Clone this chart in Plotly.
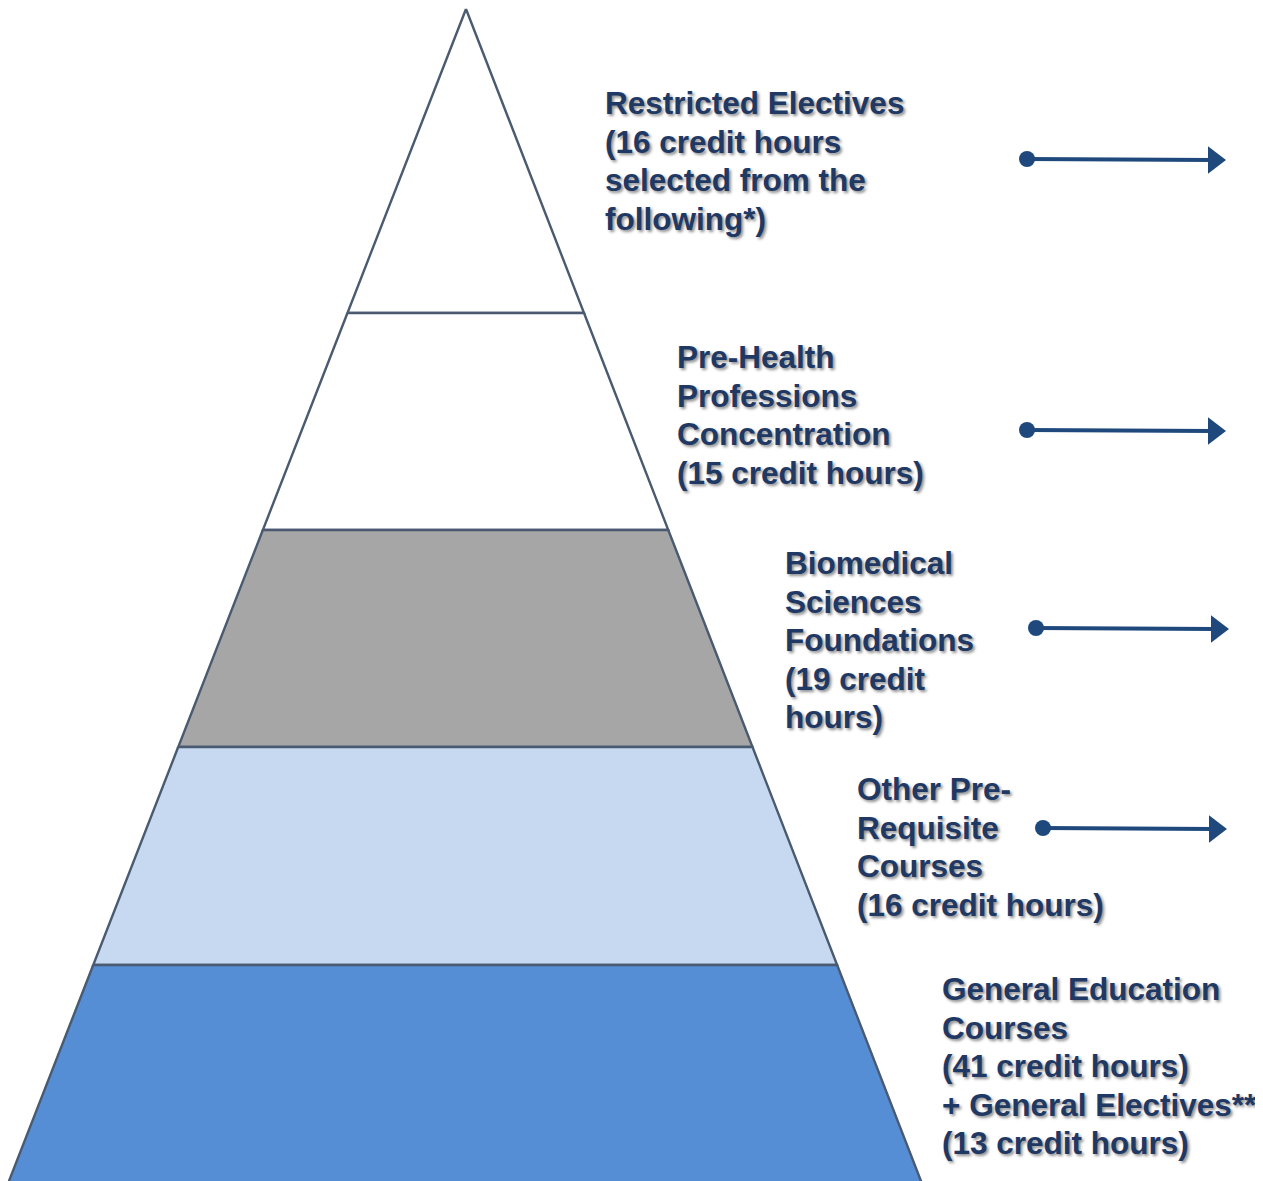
import plotly.graph_objects as go

# ---- data ----
layer_labels = [
    ["Restricted Electives", "(16 credit hours", "selected from the", "following*)"],
    ["Pre-Health", "Professions", "Concentration", "(15 credit hours)"],
    ["Biomedical", "Sciences", "Foundations", "(19 credit", "hours)"],
    ["Other Pre-", "Requisite", "Courses", "(16 credit hours)"],
    ["General Education", "Courses", "(41 credit hours)", "+ General Electives**", "(13 credit hours)"],
]
layer_colors = ["#FFFFFF", "#FFFFFF", "#A6A6A6", "#C6D9F0", "#558ED5"]

# ---- layout constants (pixel-like canvas) ----
W, H = 1263, 1181
OFF = 8  # page body margin
apex = (466, 9)
base_left, base_right = 9, 921
level_bounds = [9, 313, 530, 747, 965, 1181]
label_x = [603, 675, 783, 855, 940]
label_y0 = [103, 357, 563, 789, 989]
line_gap = 38.5
arrow_y = [159, 430, 628, 828]
arrow_x0 = [1027, 1027, 1036, 1043]
arrow_x1 = [1222, 1222, 1225, 1223]

def xl(y):
    return apex[0] + (base_left - apex[0]) * (y - apex[1]) / (H - apex[1])

def xr(y):
    return apex[0] + (base_right - apex[0]) * (y - apex[1]) / (H - apex[1])

fig = go.Figure()
outline = "#4A5A70"
for i in range(5):
    y0, y1 = level_bounds[i], level_bounds[i + 1] + (20 if i == 4 else 0)
    xs = [xl(y0), xr(y0), xr(y1), xl(y1), xl(y0)]
    ys = [y0, y0, y1, y1, y0]
    fig.add_trace(go.Scatter(x=xs, y=ys, mode="lines", fill="toself",
                             fillcolor=layer_colors[i],
                             line=dict(color=outline, width=2.4),
                             hoverinfo="skip", showlegend=False))

arrow_color = "#1F497D"
for i in range(4):
    fig.add_trace(go.Scatter(x=[arrow_x0[i], arrow_x1[i] - 10], y=[arrow_y[i], arrow_y[i] + 1],
                             mode="lines", line=dict(color=arrow_color, width=4),
                             hoverinfo="skip", showlegend=False))
    fig.add_trace(go.Scatter(x=[arrow_x0[i]], y=[arrow_y[i]], mode="markers",
                             marker=dict(symbol="circle", size=16, color=arrow_color),
                             hoverinfo="skip", showlegend=False))
    fig.add_trace(go.Scatter(x=[arrow_x1[i] - 8], y=[arrow_y[i] + 1], mode="markers",
                             marker=dict(symbol="triangle-right", size=24, color=arrow_color),
                             hoverinfo="skip", showlegend=False))

for i, lines in enumerate(layer_labels):
    for j, t in enumerate(lines):
        fig.add_annotation(x=label_x[i], y=label_y0[i] + j * line_gap, xref="x", yref="y",
                           text="<b>" + t + "</b>", showarrow=False,
                           xanchor="left", yanchor="middle", align="left",
                           font=dict(family="Liberation Sans, Arial", size=31.5, color="#203864",
                                     shadow="2px 2px 3px rgba(0,0,0,0.45)"))

fig.update_layout(
    width=W, height=H,
    margin=dict(l=0, r=0, t=0, b=0),
    paper_bgcolor="white", plot_bgcolor="white",
    xaxis=dict(range=[OFF, W + OFF], visible=False, fixedrange=True),
    yaxis=dict(range=[H + OFF, OFF], visible=False, fixedrange=True),
    showlegend=False,
)
fig.write_html("out.html")
